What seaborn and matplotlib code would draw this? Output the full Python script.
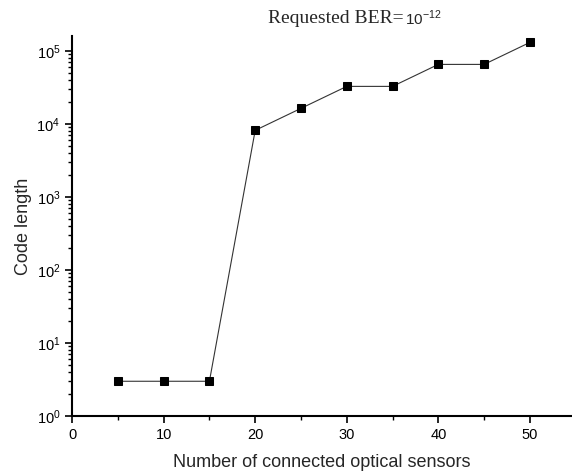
import matplotlib
matplotlib.use("Agg")
import matplotlib.pyplot as plt
import seaborn as sns
import numpy as np
import pandas as pd
from matplotlib.ticker import LogLocator, MultipleLocator, NullFormatter

sensors = [5, 10, 15, 20, 25, 30, 35, 40, 45, 50]
code_length = [3, 3, 3, 8192, 16384, 32768, 32768, 65536, 65536, 131072]
x_ticks = [0, 10, 20, 30, 40, 50]

df = pd.DataFrame({"sensors": sensors, "code_length": code_length})

sns.set_style("ticks")
plt.rcParams['font.family'] = ['Liberation Sans', 'DejaVu Sans']

fig = plt.figure(figsize=(5.72, 4.75), dpi=100)
ax = fig.add_axes([0.126, 0.124, 0.874, 0.80])

sns.lineplot(data=df, x="sensors", y="code_length", ax=ax, color="#333333",
             linewidth=0.8, marker="s", markersize=6, markerfacecolor="black",
             markeredgecolor="black")

ax.set_yscale("log")
ax.set_ylim(1, 1.6e5)
ax.set_xlim(0, 54.6)
ax.set_xticks(x_ticks)
ax.xaxis.set_minor_locator(MultipleLocator(5))
ax.yaxis.set_major_locator(LogLocator(base=10, numticks=10))
ax.yaxis.set_minor_locator(LogLocator(base=10, subs=np.arange(2, 10), numticks=20))
ax.yaxis.set_minor_formatter(NullFormatter())

for side in ["top", "right"]:
    ax.spines[side].set_visible(False)
for side in ["left", "bottom"]:
    ax.spines[side].set_linewidth(1.5)
    ax.spines[side].set_color("black")

ax.tick_params(axis="both", which="major", direction="out", length=5, width=1.2,
               labelsize=10.5, colors="black")
ax.tick_params(axis="both", which="minor", direction="out", length=3, width=1.0,
               colors="black")

ax.set_xlabel("Number of connected optical sensors", fontsize=13, labelpad=9)
ax.set_ylabel("Code length", fontsize=13, labelpad=3)

fig.text(0.705, 0.962, "Requested BER=", family="Liberation Serif", fontsize=14,
         ha="right", va="center")
fig.text(0.708, 0.962, r"10$^{\mathregular{-12}}$", family="Liberation Sans",
         fontsize=11, ha="left", va="center")

fig.savefig("out.png", dpi=100)
